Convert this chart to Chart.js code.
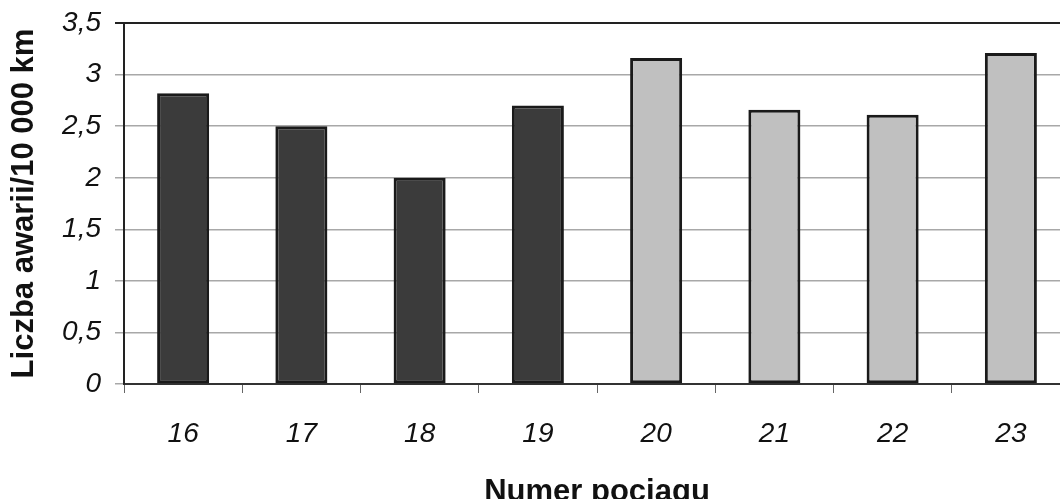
<!DOCTYPE html>
<html>
<head>
<meta charset="utf-8">
<script src="https://cdn.jsdelivr.net/npm/chart.js@4/dist/chart.umd.min.js"></script>
<style>
  html, body { margin: 0; padding: 0; background: #fff; overflow: hidden; }
  #wrap { position: absolute; left: 0; top: 0; width: 1070px; height: 512px; }
</style>
</head>
<body>
<div id="wrap"><canvas id="awarieChart" width="1070" height="512"></canvas></div>
<script>
// dane
const pociagi = ['16', '17', '18', '19', '20', '21', '22', '23'];
const awarie = [2.82, 2.5, 2.0, 2.7, 3.16, 2.66, 2.61, 3.21];
const grupa = ['A', 'A', 'A', 'A', 'B', 'B', 'B', 'B'];
const yTicks = [0, 0.5, 1, 1.5, 2, 2.5, 3, 3.5];

const kolory = { A: '#3b3b3b', B: '#c0c0c0' };
const font = 'Liberation Sans, Arial, sans-serif';

new Chart(document.getElementById('awarieChart'), {
    type: 'bar',
    data: {
        labels: pociagi,
        datasets: [{
            data: awarie,
            backgroundColor: grupa.map(g => kolory[g]),
            borderColor: '#1a1a1a',
            borderWidth: 3,
            borderSkipped: false,
            barPercentage: 0.44,
            categoryPercentage: 1.0
        }]
    },
    options: {
        responsive: false,
        animation: false,
        layout: { padding: { top: 23, right: 0, bottom: 0, left: 0 } },
        plugins: {
            legend: { display: false },
            tooltip: { enabled: false }
        },
        scales: {
            x: {
                grid: {
                    drawOnChartArea: false,
                    drawTicks: true,
                    tickLength: 9,
                    color: '#666'
                },
                border: { color: '#333', width: 2 },
                ticks: {
                    color: '#111',
                    padding: 24,
                    font: { family: font, size: 28, style: 'italic' }
                },
                title: {
                    display: true,
                    text: 'Numer pociągu',
                    color: '#111',
                    padding: { top: 1, bottom: 1 },
                    font: { family: font, size: 31, weight: 'bold' }
                },
                afterFit: function(scale) { scale.height = 128; }
            },
            y: {
                min: 0,
                max: 3.5,
                afterBuildTicks: function(scale) {
                    scale.ticks = yTicks.map(v => ({ value: v }));
                },
                grid: {
                    color: function(ctx) {
                        return ctx.tick && ctx.tick.value === 3.5 ? '#222' : '#a8a8a8';
                    },
                    lineWidth: function(ctx) {
                        return ctx.tick && ctx.tick.value === 3.5 ? 2 : 1.5;
                    },
                    tickLength: 9
                },
                border: { color: '#222', width: 2 },
                ticks: {
                    color: '#111',
                    padding: 14,
                    font: { family: font, size: 28, style: 'italic' },
                    callback: function(value) {
                        return String(value).replace('.', ',');
                    }
                },
                title: {
                    display: true,
                    text: 'Liczba awarii/10 000 km',
                    color: '#111',
                    padding: { top: 6, bottom: 6 },
                    font: { family: font, size: 31, weight: 'bold' }
                },
                afterFit: function(scale) {
                    scale.width = 124;
                    scale.paddingTop = 0;
                    scale.paddingBottom = 0;
                }
            }
        }
    }
});
</script>
</body>
</html>
